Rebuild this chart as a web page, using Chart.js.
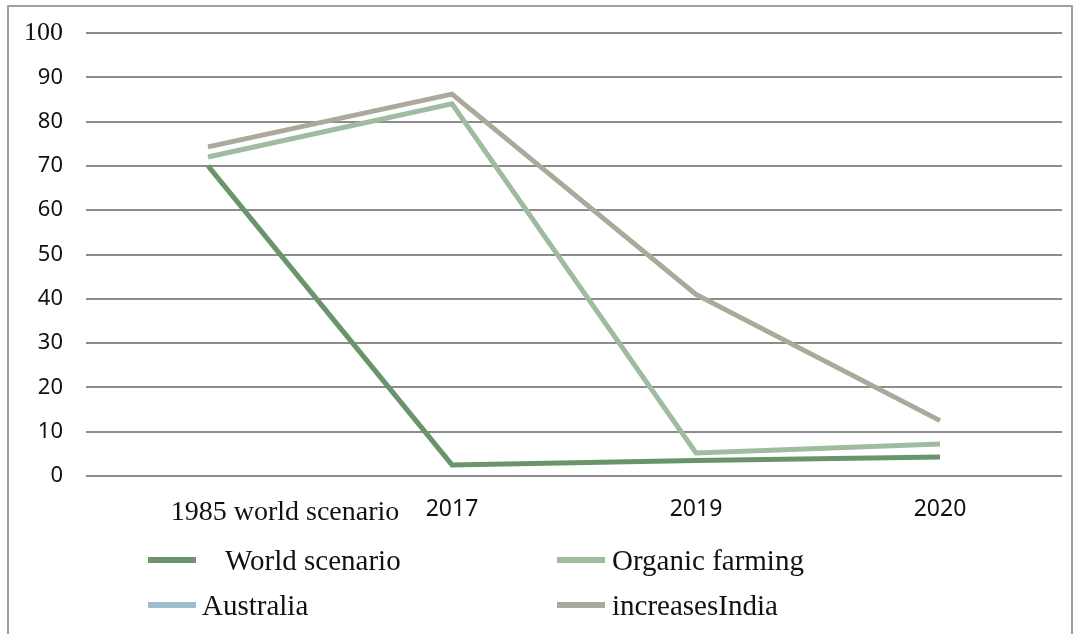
<!DOCTYPE html>
<html>
<head>
<meta charset="utf-8">
<script src="https://cdn.jsdelivr.net/npm/chart.js@4"></script>
<style>
    html, body { margin: 0; padding: 0; background: #ffffff; }
    #wrap { position: relative; width: 1078px; height: 634px; }
    #frame {
        position: absolute; left: 7px; top: 5px; width: 1066px; height: 629px;
        border: 2px solid #a0a0a0; border-bottom: none; box-sizing: border-box;
    }
    #chart { position: absolute; left: 0; top: 0; }
    .legend-item {
        position: absolute; font-family: "Liberation Serif", serif; font-size: 29px;
        color: #111; line-height: 34px; white-space: pre;
    }
    .swatch { position: absolute; height: 6px; width: 48px; }
</style>
</head>
<body>
<div id="wrap">
    <div id="frame"></div>
    <canvas id="chart" width="1078" height="634"></canvas>
    <div id="legend"></div>
</div>
<script>
const categories = ['1985 world scenario', '2017', '2019', '2020'];

const worldScenario = [70, 2.5, 3.5, 4.3];
const organicFarming = [72, 84, 5.2, 7.2];
const australia = [null, null, null, null];
const increasesIndia = [74.3, 86.2, 41, 12.5];

const seriesNames = ['World scenario', 'Organic farming', 'Australia', 'increasesIndia'];
const seriesColors = ['#6a956b', '#a0bca0', '#9dbfcc', '#aaa99a'];
const yTicks = [0, 10, 20, 30, 40, 50, 60, 70, 80, 90, 100];

const seriesData = [worldScenario, organicFarming, australia, increasesIndia];

// legend is drawn in HTML below the canvas (two columns like the original)
const legendPos = [
    { sx: 148, tx: 225, y: 560 },
    { sx: 557, tx: 612, y: 560 },
    { sx: 148, tx: 202, y: 605 },
    { sx: 557, tx: 612, y: 605 }
];
const legendDiv = document.getElementById('legend');
seriesNames.forEach((name, i) => {
    const p = legendPos[i];
    legendDiv.innerHTML += `
        <div class="swatch" style="left:${p.sx}px;top:${p.y - 3}px;background:${seriesColors[i]}"></div>
        <div class="legend-item" style="left:${p.tx}px;top:${p.y - 17}px">${name}</div>
    `;
});

const sansFont = { family: '"Noto Sans", "Open Sans", sans-serif', size: 22 };
const serifFont = { family: '"Liberation Serif", serif', size: 26 };

new Chart(document.getElementById('chart'), {
    type: 'line',
    data: {
        labels: categories,
        datasets: seriesNames.map((name, i) => ({
            label: name,
            data: seriesData[i],
            borderColor: seriesColors[i],
            backgroundColor: seriesColors[i],
            borderWidth: 5,
            borderCapStyle: 'butt',
            borderJoinStyle: 'miter',
            pointRadius: 0,
            tension: 0,
            fill: false
        }))
    },
    options: {
        responsive: false,
        animation: false,
        layout: { padding: { left: 0, right: 16, top: 33, bottom: 108 } },
        plugins: {
            legend: { display: false },
            tooltip: { enabled: false }
        },
        scales: {
            x: {
                offset: true,
                grid: { display: false },
                border: { display: false },
                ticks: {
                    color: '#111',
                    padding: 12,
                    maxRotation: 0,
                    autoSkip: false,
                    font: (ctx) => ctx.index === 0
                        ? { family: '"Liberation Serif", serif', size: 28 }
                        : { family: '"Noto Sans", "Open Sans", sans-serif', size: 23 },
                    callback: function (value, index) {
                        const label = this.getLabelForValue(value);
                        // first label sits right of its point in the original
                        return index === 0 ? ' '.repeat(22) + label : label;
                    }
                },
                afterFit: (scale) => {
                    scale.height = 50;
                    scale.paddingLeft = 0;
                    scale.paddingRight = 0;
                }
            },
            y: {
                min: 0,
                max: 100,
                afterBuildTicks: (scale) => { scale.ticks = yTicks.map(v => ({ value: v })); },
                grid: { color: '#8c8c8c', lineWidth: 2, drawTicks: false },
                border: { display: false },
                ticks: {
                    color: '#111',
                    padding: 23,
                    font: (ctx) => ctx.tick && ctx.tick.value === 100 ? serifFont : sansFont
                },
                afterFit: (scale) => {
                    scale.width = 86;
                    scale.paddingTop = 0;
                    scale.paddingBottom = 0;
                }
            }
        }
    }
});
</script>
</body>
</html>
